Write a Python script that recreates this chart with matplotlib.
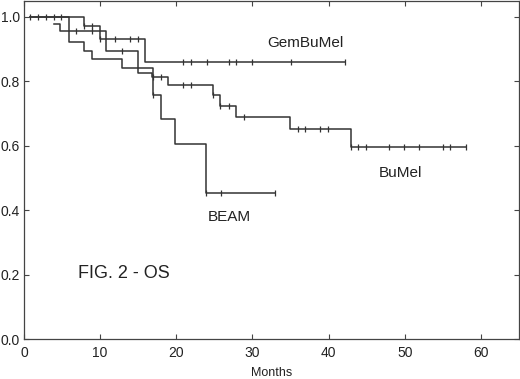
import numpy as np
import matplotlib
matplotlib.use('Agg')
import matplotlib.pyplot as plt

# Kaplan-Meier curves (months, survival)
gem_start, gem_s0 = 0.8, 1.0
gem_ev_t = [7.9, 10.0, 15.9]
gem_ev_s = [0.971, 0.932, 0.861]
gem_end = 42.1
gem_cens = [0.8, 1.9, 2.9, 3.9, 4.9, 7.9, 8.9, 10.0, 11.9, 13.9, 15.0,
            20.9, 21.9, 24.0, 26.9, 27.9, 29.9, 35.1, 42.1]

bu_start, bu_s0 = 3.9, 0.977
bu_ev_t = [4.8, 10.8, 15.0, 16.8, 18.9, 24.8, 25.8, 27.9, 35.0, 42.9]
bu_ev_s = [0.955, 0.893, 0.826, 0.813, 0.788, 0.757, 0.723, 0.688, 0.651, 0.596]
bu_end = 58.0
bu_cens = [6.8, 8.9, 12.9, 17.0, 18.0, 20.9, 21.9, 24.8, 25.8, 26.9, 28.9,
           36.0, 36.9, 38.9, 39.9, 43.0, 43.9, 44.9, 47.9, 49.9, 51.9,
           55.0, 56.0, 58.0]

beam_start, beam_s0 = 0.8, 1.0
beam_ev_t = [5.9, 7.9, 8.9, 12.9, 17.0, 18.0, 19.9, 23.9]
beam_ev_s = [0.922, 0.895, 0.868, 0.840, 0.757, 0.683, 0.607, 0.454]
beam_end = 33.0
beam_cens = [17.0, 23.9, 25.9, 33.0]

labels = ['GemBuMel', 'BuMel', 'BEAM']
label_pos = [(37.0, 0.918), (49.5, 0.515), (27.0, 0.379)]

plt.rcParams['font.family'] = ['Liberation Sans', 'DejaVu Sans']
col = '#333333'

fig = plt.figure(figsize=(5.2, 3.79), dpi=100)
ax = fig.add_axes([0.046, 0.105, 0.952, 0.893])


def surv_at(t, s0, ev_t, ev_s):
    idx = np.searchsorted(ev_t, t, side='right')
    return s0 if idx == 0 else ev_s[idx - 1]


def draw_km(t0, s0, ev_t, ev_s, t_end, cens):
    x = [t0] + ev_t + [t_end]
    y = [s0] + ev_s + [ev_s[-1]]
    ax.step(x, y, where='post', color=col, lw=1.1)
    cy = [surv_at(c, s0, ev_t, ev_s) for c in cens]
    ax.plot(cens, cy, ls='none', marker='|', ms=5, mew=0.9, color=col)


draw_km(gem_start, gem_s0, gem_ev_t, gem_ev_s, gem_end, gem_cens)
draw_km(bu_start, bu_s0, bu_ev_t, bu_ev_s, bu_end, bu_cens)
draw_km(beam_start, beam_s0, beam_ev_t, beam_ev_s, beam_end, beam_cens)

for lab, (lx, ly) in zip(labels, label_pos):
    ax.text(lx, ly, lab, fontsize=11, ha='center', va='center', color='#222222')
ax.text(7.1, 0.205, 'FIG. 2 - OS', fontsize=13, ha='left', va='center', color='#222222')

ax.set_xlim(0, 65)
ax.set_ylim(0, 1.05)
ax.set_xticks([0, 10, 20, 30, 40, 50, 60])
ax.set_yticks([0.0, 0.2, 0.4, 0.6, 0.8, 1.0])
ax.set_yticklabels(['0.0', '0.2', '0.4', '0.6', '0.8', '1.0'])
ax.tick_params(direction='in', length=3.5, width=0.8, color='#444444',
               top=True, right=True, labelsize=10, labelcolor='#222222')
ax.tick_params(axis='x', pad=5)
ax.tick_params(axis='y', pad=3)
for sp in ax.spines.values():
    sp.set_color('#444444')
    sp.set_linewidth(0.9)
ax.set_xlabel('Months', fontsize=9, color='#222222', labelpad=5)

fig.savefig('out.png', dpi=100)
